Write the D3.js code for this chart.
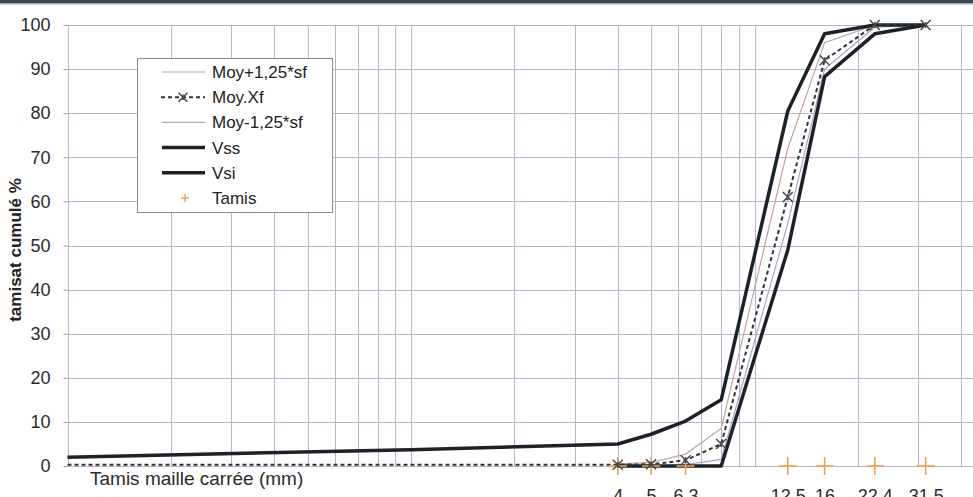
<!doctype html>
<html lang="fr">
<head>
<meta charset="utf-8">
<title>Courbe granulométrique</title>
<script src="https://d3js.org/d3.v7.min.js"></script>
<style>
  body { margin: 0; background: #fff; }
  svg { display: block; font-family: Arial, "Liberation Sans", Helvetica, sans-serif; }
  .axis_y text { font-size: 18px; fill: #2b2b2b; }
  .axis_y line { stroke: #9a98ae; }
  .axis_y path { display: none; }
  .axis_x text { font-size: 18px; fill: #2b2b2b; }
  .axis_x path, .axis_x line { display: none; }
  .grid line { stroke: #b8b4ca; stroke-width: 1; }
  .legend text { font-size: 17px; fill: #222; }
</style>
</head>
<body>
<svg id="main" width="973" height="497"></svg>
<script>
// sieve openings (mm) shown as "Tamis" and their labels
let tamis = [4, 5, 6.3, 12.5, 16, 22.4, 31.5];
let tamisLabels = ["4", "5", "6,3", "12,5", "16", "22,4", "31,5"];

// curves: opening (mm) / cumulative passing (%)
let vssD = [0.1, 1, 4, 5, 6.3, 8, 12.5, 16, 22.4, 31.5];
let vssV = [2, 3.7, 5, 7.2, 10.2, 15, 80.5, 98, 100, 100];

let vsiD = [4, 5, 6.3, 8, 12.5, 16, 22.4, 31.5];
let vsiV = [0, 0, 0, 0, 49, 88.3, 98, 100];

let moyD = [0.1, 4, 5, 6.3, 8, 12.5, 16, 22.4, 31.5];
let moyV = [0.3, 0.3, 0.4, 1.3, 5, 61, 92, 100, 100];

let moyPlusD = [4, 5, 6.3, 8, 12.5, 16, 22.4, 31.5];
let moyPlusV = [0.5, 0.8, 2.7, 8.5, 72, 96, 100, 100];

let moyMinusD = [4, 5, 6.3, 8, 12.5, 16, 22.4, 31.5];
let moyMinusV = [0, 0, 0.3, 1.5, 55, 90, 99.5, 100];

let yTicks = [0, 10, 20, 30, 40, 50, 60, 70, 80, 90, 100];

let legendKeys = ["Moy+1,25*sf", "Moy.Xf", "Moy-1,25*sf", "Vss", "Vsi", "Tamis"];

let svg = d3.select('#main');
let W = 973;

let x_scale = d3.scaleLog().domain([0.1, 100]).range([67.5, 67.5 + 3 * 343.5]);
let y_scale = d3.scaleLinear().domain([0, 100]).range([466, 25]);

// window frame at top
svg.append('rect').attr('x', 0).attr('y', 0).attr('width', W).attr('height', 3).attr('fill', '#3f4852');
svg.append('rect').attr('x', 0).attr('y', 3).attr('width', W).attr('height', 1.5).attr('fill', '#9fb0c0');

// grid
let grid = svg.append('g').attr('class', 'grid');
grid.selectAll('.hg').data(yTicks).join('line').attr('class', 'hg')
  .attr('x1', x_scale(0.1)).attr('x2', W)
  .attr('y1', d => Math.round(y_scale(d)) + 0.5).attr('y2', d => Math.round(y_scale(d)) + 0.5);
grid.selectAll('.vg').data(x_scale.ticks().filter(d => x_scale(d) < W)).join('line').attr('class', 'vg')
  .attr('x1', d => Math.round(x_scale(d)) + 0.5).attr('x2', d => Math.round(x_scale(d)) + 0.5)
  .attr('y1', y_scale(100)).attr('y2', y_scale(0));

// y axis
svg.append('g').attr('class', 'axis_y')
  .attr('transform', 'translate(' + x_scale(0.1) + ',0)')
  .call(d3.axisLeft(y_scale).tickValues(yTicks).tickSize(4).tickPadding(13));

// x labels (sieve openings), cut by the bottom edge as in the scan
svg.append('g').attr('class', 'axis_x')
  .attr('transform', 'translate(0,' + y_scale(0) + ')')
  .call(d3.axisBottom(x_scale).tickValues(tamis).tickSize(0).tickPadding(23)
    .tickFormat((d, i) => tamisLabels[i]));

// axis titles
svg.append('text').attr('transform', 'translate(21,250) rotate(-90)')
  .attr('text-anchor', 'middle').attr('font-size', 17).attr('font-weight', 'bold').attr('fill', '#222')
  .text('tamisat cumulé %');
svg.append('text').attr('x', 90).attr('y', 485)
  .attr('font-size', 19).attr('fill', '#2b2b2b')
  .text('Tamis maille carrée (mm)');

let line = d3.line().x(d => x_scale(d[0])).y(d => y_scale(d[1]));
let zip = (a, b) => a.map((v, i) => [v, b[i]]);

let plot = svg.append('g');
plot.append('path').datum(zip(moyPlusD, moyPlusV)).attr('d', line)
  .attr('fill', 'none').attr('stroke', '#c2a2a2').attr('stroke-width', 1.2);
plot.append('path').datum(zip(moyMinusD, moyMinusV)).attr('d', line)
  .attr('fill', 'none').attr('stroke', '#aaa8c4').attr('stroke-width', 1.2);
plot.append('path').datum(zip(vsiD, vsiV)).attr('d', line)
  .attr('fill', 'none').attr('stroke', '#1b2328').attr('stroke-width', 3.5).attr('stroke-linejoin', 'round');
plot.append('path').datum(zip(vssD, vssV)).attr('d', line)
  .attr('fill', 'none').attr('stroke', '#1b2328').attr('stroke-width', 3.5).attr('stroke-linejoin', 'round');
plot.append('path').datum(zip(moyD, moyV)).attr('d', line)
  .attr('fill', 'none').attr('stroke', '#333').attr('stroke-width', 2).attr('stroke-dasharray', '4,3');

// Tamis markers
let plus = (g, s, c, w) => {
  g.append('line').attr('x1', -s).attr('x2', s).attr('y1', 0).attr('y2', 0).attr('stroke', c).attr('stroke-width', w);
  g.append('line').attr('x1', 0).attr('x2', 0).attr('y1', -s).attr('y2', s).attr('stroke', c).attr('stroke-width', w);
};
plot.selectAll('.tamis').data(tamis).join('g').attr('class', 'tamis')
  .attr('transform', d => 'translate(' + x_scale(d) + ',' + y_scale(0) + ')')
  .each(function () { plus(d3.select(this), 9, '#f3a04e', 1.6); });

// Moy.Xf star markers
let star = (g, s) => {
  g.append('path').attr('d', `M${-s},${-s}L${s},${s}M${-s},${s}L${s},${-s}M0,${-s * 0.6}L0,${s * 0.6}`)
    .attr('stroke', '#4a4a4a').attr('stroke-width', 1.5).attr('fill', 'none');
};
plot.selectAll('.moyPts').data(zip(moyD, moyV).filter(d => d[0] >= 4)).join('g').attr('class', 'moyPts')
  .attr('transform', d => 'translate(' + x_scale(d[0]) + ',' + y_scale(d[1]) + ')')
  .each(function () { star(d3.select(this), 5); });

// legend
let lg = svg.append('g').attr('class', 'legend');
lg.append('rect').attr('x', 137.5).attr('y', 58.5).attr('width', 195).attr('height', 154)
  .attr('fill', '#fff').attr('stroke', '#8a8a8a').attr('stroke-width', 1);
let rowY = i => 72 + i * 25.2;
let sample = [
  g => g.append('line').attr('x1', 162).attr('x2', 205).attr('stroke', '#c2a2a2').attr('stroke-width', 1.2),
  g => { g.append('line').attr('x1', 161).attr('x2', 205).attr('stroke', '#333').attr('stroke-width', 2).attr('stroke-dasharray', '4,3');
         star(g.append('g').attr('transform', 'translate(183,0)'), 4.5); },
  g => g.append('line').attr('x1', 162).attr('x2', 205).attr('stroke', '#aaa8c4').attr('stroke-width', 1.2),
  g => g.append('line').attr('x1', 162).attr('x2', 205).attr('stroke', '#1b2328').attr('stroke-width', 3.5),
  g => g.append('line').attr('x1', 162).attr('x2', 205).attr('stroke', '#1b2328').attr('stroke-width', 3.5),
  g => plus(g.append('g').attr('transform', 'translate(185,0)'), 4, '#f3a04e', 1.4)
];
legendKeys.forEach((k, i) => {
  let row = lg.append('g').attr('transform', 'translate(0,' + rowY(i) + ')');
  sample[i](row);
  row.append('text').attr('x', 212).attr('y', 0).attr('dy', '0.35em').text(k);
});
</script>
</body>
</html>
